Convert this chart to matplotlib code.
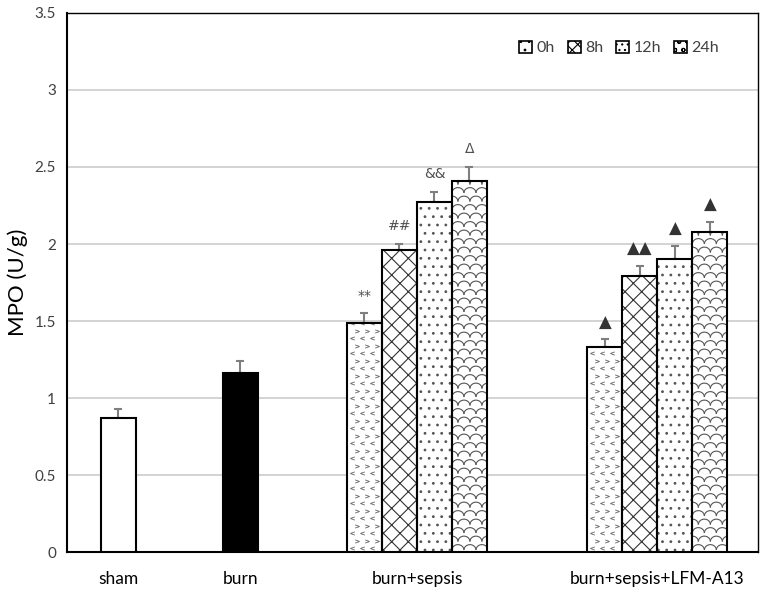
import numpy as np
import matplotlib
matplotlib.use("Agg")
import matplotlib.pyplot as plt
from matplotlib.patches import Patch
from matplotlib.collections import LineCollection

plt.rcParams['font.family'] = ['Lato', 'DejaVu Sans']
plt.rcParams['hatch.linewidth'] = 0.8

# data
groups = ['sham', 'burn', 'burn+sepsis', 'burn+sepsis+LFM-A13']
times = ['0h', '8h', '12h', '24h']

sham_val, sham_err = 0.87, 0.06
burn_val, burn_err = 1.16, 0.08
sepsis_vals = [1.49, 1.96, 2.27, 2.41]
sepsis_errs = [0.06, 0.04, 0.07, 0.09]
lfm_vals = [1.33, 1.79, 1.90, 2.08]
lfm_errs = [0.05, 0.07, 0.09, 0.065]
sepsis_marks = ['**', '##', '&&', '\u0394']
lfm_marks = ['\u25B2', '\u25B2\u25B2', '\u25B2', '\u25B2']

txt = '#404040'
hgray = '#555555'

fig = plt.figure(figsize=(7.65, 5.93), dpi=100)
ax = fig.add_axes([0.0876, 0.0691, 0.903, 0.909])

w = 1.0
sham_x = 1.47
burn_x = 4.95
sepsis_x = 8.5 + np.arange(4)
lfm_x = 15.37 + np.arange(4)

# px -> data units (bar is 35 px wide, 154 px per unit of y)
px_x = 1 / 35.0
px_y = 1 / 154.0

ekw = dict(ecolor='#7f7f7f', elinewidth=1.5, capsize=3, capthick=1.5)


def chevrons(bar, x0, h):
    # sparse "<" ">" confetti texture
    pts_l, pts_r = [], []
    row = 0
    y = 4 * px_y
    while y < h:
        xs = x0 + (5 + (row % 2) * 5) * px_x
        while xs < x0 + w:
            if row % 2 == 0:
                pts_l.append((xs, y))
            else:
                pts_r.append((xs, y))
            xs += 10 * px_x
        y += 7.5 * px_y
        row += 1
    for pts, m in [(pts_l, r'$<$'), (pts_r, r'$>$')]:
        if pts:
            p = np.array(pts)
            ln, = ax.plot(p[:, 0], p[:, 1], ls='none', marker=m, ms=3,
                          color='#666666', mew=0.2, zorder=3)
            ln.set_clip_path(bar)


def scallops(bar, x0, h):
    # overlapping scale / shingle texture
    segs = []
    t = np.linspace(0, np.pi, 14)
    r = 6.0
    row = 0
    y = 2 * px_y
    while y < h + 10 * px_y:
        cx = x0 + ((row % 2) * r - r) * px_x
        while cx < x0 + w + r * px_x:
            xs = cx + r * np.cos(t) * px_x
            ys = y + r * 0.9 * np.sin(t) * px_y
            segs.append(np.column_stack([xs, ys]))
            cx += 2 * r * px_x
        y += 8.5 * px_y
        row += 1
    lc = LineCollection(segs, colors=hgray, linewidths=0.8, zorder=3)
    ax.add_collection(lc)
    lc.set_clip_path(bar)


def pattern_bar(x, v, i):
    x0 = x - w / 2
    if i == 1:
        ax.bar(x, v, w, color='white', edgecolor='#333333', hatch='xx', lw=0, zorder=3)
    elif i == 2:
        ax.bar(x, v, w, color='white', edgecolor=hgray, hatch='..', lw=0, zorder=3)
    bar = ax.bar(x, v, w, color='white' if i in (0, 3) else 'none',
                 edgecolor='none', lw=0, zorder=2.9)[0]
    if i == 0:
        chevrons(bar, x0, v)
    elif i == 3:
        scallops(bar, x0, v)
    ax.bar(x, v, w, color='none', edgecolor='black', lw=1.5, zorder=4)


ax.bar(sham_x, sham_val, w, color='white', edgecolor='black', lw=1.5, zorder=3)
ax.errorbar(sham_x, sham_val, yerr=[[0], [sham_err]], fmt='none', zorder=2, **ekw)
ax.bar(burn_x, burn_val, w, color='black', edgecolor='black', lw=1.5, zorder=3)
ax.errorbar(burn_x, burn_val, yerr=[[0], [burn_err]], fmt='none', zorder=2, **ekw)

for xs, vals, errs in [(sepsis_x, sepsis_vals, sepsis_errs),
                       (lfm_x, lfm_vals, lfm_errs)]:
    for i in range(4):
        pattern_bar(xs[i], vals[i], i)
        ax.errorbar(xs[i], vals[i], yerr=[[0], [errs[i]]], fmt='none', zorder=2, **ekw)

for i in range(4):
    top = sepsis_vals[i] + sepsis_errs[i]
    ax.text(sepsis_x[i], top + 0.07, sepsis_marks[i], ha='center', va='bottom',
            fontsize=10, color='#505050', family=['DejaVu Sans'])
    top = lfm_vals[i] + lfm_errs[i]
    ax.text(lfm_x[i], top + 0.05, lfm_marks[i], ha='center', va='bottom',
            fontsize=12, color='#333333', family=['DejaVu Sans'])

ax.set_xlim(0, 19.74)
ax.set_ylim(0, 3.5)
ax.set_yticks(np.arange(0, 3.51, 0.5))
ax.set_yticklabels(['0', '0.5', '1', '1.5', '2', '2.5', '3', '3.5'])
ax.set_xticks([sham_x, burn_x, sepsis_x.mean(), lfm_x.mean()])
ax.set_xticklabels(groups)
ax.tick_params(axis='both', length=0, colors=txt, labelsize=11)
ax.tick_params(axis='x', labelsize=12.5, pad=14, labelcolor='black')
ax.tick_params(axis='y', pad=8)
ax.grid(axis='y', color='#d0d0d0', lw=1.3, zorder=0)
ax.set_axisbelow(True)
for s in ax.spines.values():
    s.set_linewidth(1.5)
    s.set_color('black')
ax.spines['right'].set_linewidth(1.0)
ax.spines['top'].set_linewidth(1.0)
ax.set_ylabel('MPO (U/g)', fontsize=16, va='center')
ax.yaxis.set_label_coords(-0.072, 0.5)

leg_hatch = ['..', 'xxx', '...', 'oo']
handles = [Patch(facecolor='white', edgecolor='black', hatch=h, lw=1.2) for h in leg_hatch]
ax.legend(handles, times, loc='upper right', bbox_to_anchor=(0.965, 0.975), ncol=4,
          frameon=False, fontsize=11.5, handlelength=0.8, handleheight=0.8,
          handletextpad=0.3, columnspacing=0.8, labelcolor=txt)

fig.savefig('out.png', dpi=100)
